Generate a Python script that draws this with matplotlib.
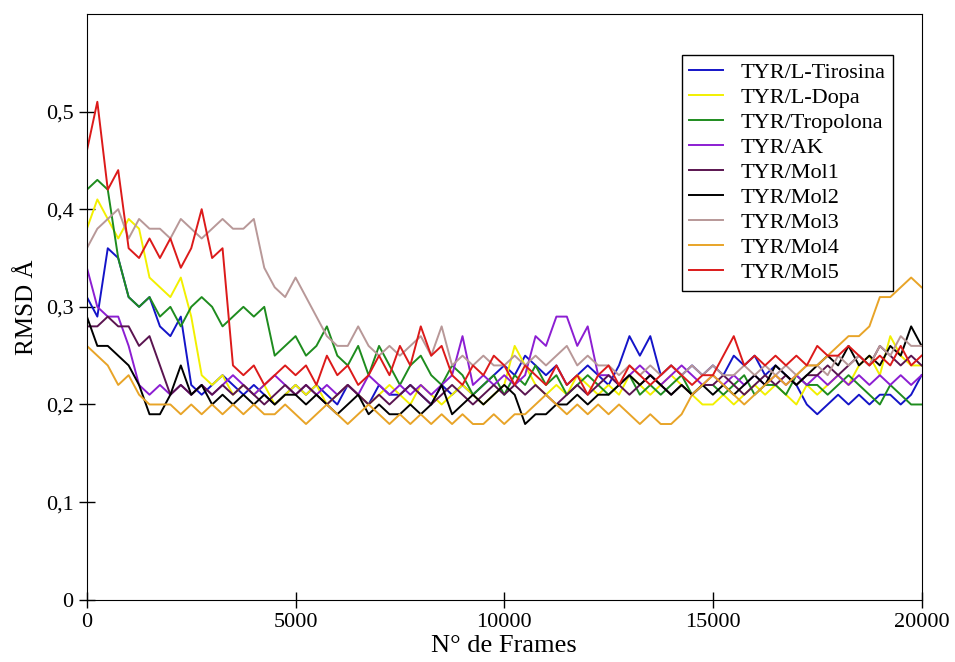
import matplotlib
matplotlib.use("Agg")
import matplotlib.pyplot as plt
from matplotlib.ticker import FuncFormatter

plt.rcParams['font.family'] = ['Liberation Serif', 'DejaVu Serif']

# frames sampled every 250
frames = list(range(0, 20001, 250))

labels = ['TYR/L-Tirosina', 'TYR/L-Dopa', 'TYR/Tropolona', 'TYR/AK', 'TYR/Mol1',
          'TYR/Mol2', 'TYR/Mol3', 'TYR/Mol4', 'TYR/Mol5']
colors = ['#1414c8', '#f2f000', '#1e8c1e', '#8c1ed2', '#5a1450',
          '#000000', '#b89898', '#e8a428', '#dc1a1a']

l_tirosina = [0.31, 0.29, 0.36, 0.35, 0.31, 0.30, 0.31, 0.28, 0.27, 0.29,
              0.22, 0.21, 0.22, 0.23, 0.22, 0.21, 0.22, 0.21, 0.20, 0.21,
              0.22, 0.21, 0.22, 0.21, 0.20, 0.22, 0.21, 0.20, 0.22, 0.21,
              0.21, 0.22, 0.21, 0.20, 0.22, 0.21, 0.22, 0.21, 0.22, 0.23,
              0.24, 0.23, 0.25, 0.24, 0.23, 0.24, 0.22, 0.23, 0.24, 0.23,
              0.22, 0.24, 0.27, 0.25, 0.27, 0.23, 0.24, 0.23, 0.24, 0.23,
              0.24, 0.23, 0.25, 0.24, 0.25, 0.23, 0.24, 0.23, 0.22, 0.20,
              0.19, 0.20, 0.21, 0.20, 0.21, 0.20, 0.21, 0.21, 0.20, 0.21,
              0.23]
l_dopa = [0.38, 0.41, 0.39, 0.37, 0.39, 0.38, 0.33, 0.32, 0.31, 0.33,
          0.29, 0.23, 0.22, 0.23, 0.21, 0.22, 0.21, 0.22, 0.20, 0.21,
          0.22, 0.21, 0.22, 0.20, 0.21, 0.22, 0.21, 0.20, 0.21, 0.22,
          0.21, 0.20, 0.22, 0.21, 0.20, 0.21, 0.22, 0.21, 0.20, 0.21,
          0.22, 0.26, 0.24, 0.22, 0.21, 0.22, 0.21, 0.23, 0.22, 0.21,
          0.22, 0.21, 0.23, 0.22, 0.21, 0.22, 0.23, 0.22, 0.21, 0.20,
          0.20, 0.21, 0.20, 0.21, 0.22, 0.21, 0.22, 0.21, 0.20, 0.22,
          0.21, 0.22, 0.23, 0.22, 0.24, 0.25, 0.23, 0.27, 0.25, 0.24,
          0.24]
tropolona = [0.42, 0.43, 0.42, 0.35, 0.31, 0.30, 0.31, 0.29, 0.30, 0.28,
             0.30, 0.31, 0.30, 0.28, 0.29, 0.30, 0.29, 0.30, 0.25, 0.26,
             0.27, 0.25, 0.26, 0.28, 0.25, 0.24, 0.26, 0.23, 0.26, 0.24,
             0.22, 0.24, 0.25, 0.23, 0.22, 0.24, 0.23, 0.21, 0.22, 0.23,
             0.21, 0.23, 0.22, 0.24, 0.22, 0.23, 0.21, 0.22, 0.23, 0.22,
             0.21, 0.22, 0.23, 0.21, 0.22, 0.21, 0.22, 0.23, 0.21, 0.22,
             0.22, 0.21, 0.22, 0.23, 0.21, 0.22, 0.22, 0.21, 0.23, 0.22,
             0.22, 0.21, 0.22, 0.23, 0.22, 0.21, 0.20, 0.22, 0.21, 0.20,
             0.20]
ak = [0.34, 0.30, 0.29, 0.29, 0.26, 0.22, 0.21, 0.22, 0.21, 0.22,
      0.21, 0.22, 0.21, 0.22, 0.23, 0.22, 0.21, 0.22, 0.23, 0.22,
      0.21, 0.22, 0.21, 0.22, 0.21, 0.22, 0.21, 0.23, 0.22, 0.21,
      0.22, 0.21, 0.22, 0.21, 0.22, 0.23, 0.27, 0.22, 0.23, 0.22,
      0.23, 0.22, 0.23, 0.27, 0.26, 0.29, 0.29, 0.26, 0.28, 0.23,
      0.23, 0.22, 0.23, 0.24, 0.23, 0.22, 0.23, 0.24, 0.23, 0.22,
      0.23, 0.22, 0.23, 0.22, 0.23, 0.22, 0.23, 0.22, 0.23, 0.22,
      0.23, 0.22, 0.23, 0.22, 0.23, 0.22, 0.23, 0.22, 0.23, 0.22,
      0.23]
mol1 = [0.28, 0.28, 0.29, 0.28, 0.28, 0.26, 0.27, 0.24, 0.21, 0.22,
        0.21, 0.22, 0.21, 0.22, 0.21, 0.22, 0.21, 0.20, 0.21, 0.22,
        0.21, 0.22, 0.21, 0.20, 0.21, 0.22, 0.21, 0.20, 0.21, 0.20,
        0.21, 0.22, 0.21, 0.20, 0.21, 0.22, 0.21, 0.20, 0.21, 0.22,
        0.21, 0.22, 0.21, 0.22, 0.21, 0.20, 0.21, 0.22, 0.21, 0.22,
        0.23, 0.22, 0.21, 0.22, 0.23, 0.22, 0.21, 0.22, 0.21, 0.22,
        0.22, 0.23, 0.22, 0.21, 0.22, 0.23, 0.22, 0.23, 0.22, 0.23,
        0.23, 0.24, 0.23, 0.24, 0.25, 0.24, 0.26, 0.25, 0.24, 0.25,
        0.24]
mol2 = [0.29, 0.26, 0.26, 0.25, 0.24, 0.22, 0.19, 0.19, 0.21, 0.24,
        0.21, 0.22, 0.20, 0.21, 0.20, 0.21, 0.20, 0.21, 0.20, 0.21,
        0.21, 0.20, 0.21, 0.20, 0.19, 0.20, 0.21, 0.19, 0.20, 0.19,
        0.19, 0.20, 0.19, 0.20, 0.22, 0.19, 0.20, 0.21, 0.20, 0.21,
        0.22, 0.21, 0.18, 0.19, 0.19, 0.20, 0.20, 0.21, 0.20, 0.21,
        0.21, 0.22, 0.23, 0.22, 0.23, 0.22, 0.21, 0.22, 0.21, 0.22,
        0.21, 0.22, 0.21, 0.22, 0.23, 0.22, 0.24, 0.23, 0.22, 0.23,
        0.24, 0.25, 0.24, 0.26, 0.24, 0.25, 0.24, 0.26, 0.25, 0.28,
        0.26]
mol3 = [0.36, 0.38, 0.39, 0.40, 0.37, 0.39, 0.38, 0.38, 0.37, 0.39,
        0.38, 0.37, 0.38, 0.39, 0.38, 0.38, 0.39, 0.34, 0.32, 0.31,
        0.33, 0.31, 0.29, 0.27, 0.26, 0.26, 0.28, 0.26, 0.25, 0.26,
        0.25, 0.26, 0.27, 0.25, 0.28, 0.24, 0.25, 0.24, 0.25, 0.24,
        0.24, 0.25, 0.24, 0.25, 0.24, 0.25, 0.26, 0.24, 0.25, 0.24,
        0.24, 0.23, 0.24, 0.23, 0.24, 0.23, 0.24, 0.23, 0.24, 0.23,
        0.24, 0.23, 0.23, 0.24, 0.23, 0.24, 0.23, 0.24, 0.23, 0.24,
        0.24, 0.23, 0.25, 0.24, 0.25, 0.24, 0.26, 0.25, 0.27, 0.26,
        0.26]
mol4 = [0.26, 0.25, 0.24, 0.22, 0.23, 0.21, 0.20, 0.20, 0.20, 0.19,
        0.20, 0.19, 0.20, 0.19, 0.20, 0.19, 0.20, 0.19, 0.19, 0.20,
        0.19, 0.18, 0.19, 0.20, 0.19, 0.18, 0.19, 0.20, 0.19, 0.18,
        0.19, 0.18, 0.19, 0.18, 0.19, 0.18, 0.19, 0.18, 0.18, 0.19,
        0.18, 0.19, 0.19, 0.20, 0.21, 0.20, 0.19, 0.20, 0.19, 0.20,
        0.19, 0.20, 0.19, 0.18, 0.19, 0.18, 0.18, 0.19, 0.21, 0.22,
        0.23, 0.22, 0.21, 0.20, 0.21, 0.22, 0.23, 0.22, 0.23, 0.24,
        0.24, 0.25, 0.26, 0.27, 0.27, 0.28, 0.31, 0.31, 0.32, 0.33,
        0.32]
mol5 = [0.46, 0.51, 0.42, 0.44, 0.36, 0.35, 0.37, 0.35, 0.37, 0.34,
        0.36, 0.40, 0.35, 0.36, 0.24, 0.23, 0.24, 0.22, 0.23, 0.24,
        0.23, 0.24, 0.22, 0.25, 0.23, 0.24, 0.22, 0.23, 0.25, 0.23,
        0.26, 0.24, 0.28, 0.25, 0.26, 0.23, 0.22, 0.24, 0.23, 0.25,
        0.24, 0.22, 0.24, 0.23, 0.22, 0.24, 0.22, 0.23, 0.21, 0.23,
        0.24, 0.22, 0.24, 0.23, 0.22, 0.23, 0.24, 0.23, 0.22, 0.23,
        0.23, 0.25, 0.27, 0.24, 0.25, 0.24, 0.25, 0.24, 0.25, 0.24,
        0.26, 0.25, 0.25, 0.26, 0.25, 0.24, 0.25, 0.24, 0.26, 0.24,
        0.25]

series = [l_tirosina, l_dopa, tropolona, ak, mol1, mol2, mol3, mol4, mol5]

fig = plt.figure(figsize=(9.55, 6.62), dpi=100)
ax = fig.add_axes([0.091, 0.094, 0.874, 0.885])

for vals, lab, col in zip(series, labels, colors):
    ax.plot(frames, vals, color=col, lw=1.4, label=lab)

ax.set_xlim(0, 20000)
ax.set_ylim(0, 0.6)
ax.set_xticks([0, 5000, 10000, 15000, 20000])
ax.set_yticks([0, 0.1, 0.2, 0.3, 0.4, 0.5])
ax.yaxis.set_major_formatter(FuncFormatter(lambda v, p: '0' if v == 0 else ('%.1f' % v).replace('.', ',')))
ax.tick_params(direction='inout', length=12, width=1, labelsize=16, top=False, right=False)

ax.set_xlabel('N° de Frames', fontsize=19, labelpad=2)
ax.set_ylabel('RMSD Å', fontsize=18, labelpad=6)

leg = ax.legend(loc='upper right', bbox_to_anchor=(0.966, 0.93), fontsize=16,
                frameon=True, fancybox=False, edgecolor='black', framealpha=1,
                handlelength=1.5, handletextpad=0.8, labelspacing=0.2,
                borderpad=0.35, borderaxespad=0)
leg.get_frame().set_linewidth(1.0)

fig.savefig('out.png', dpi=100)
